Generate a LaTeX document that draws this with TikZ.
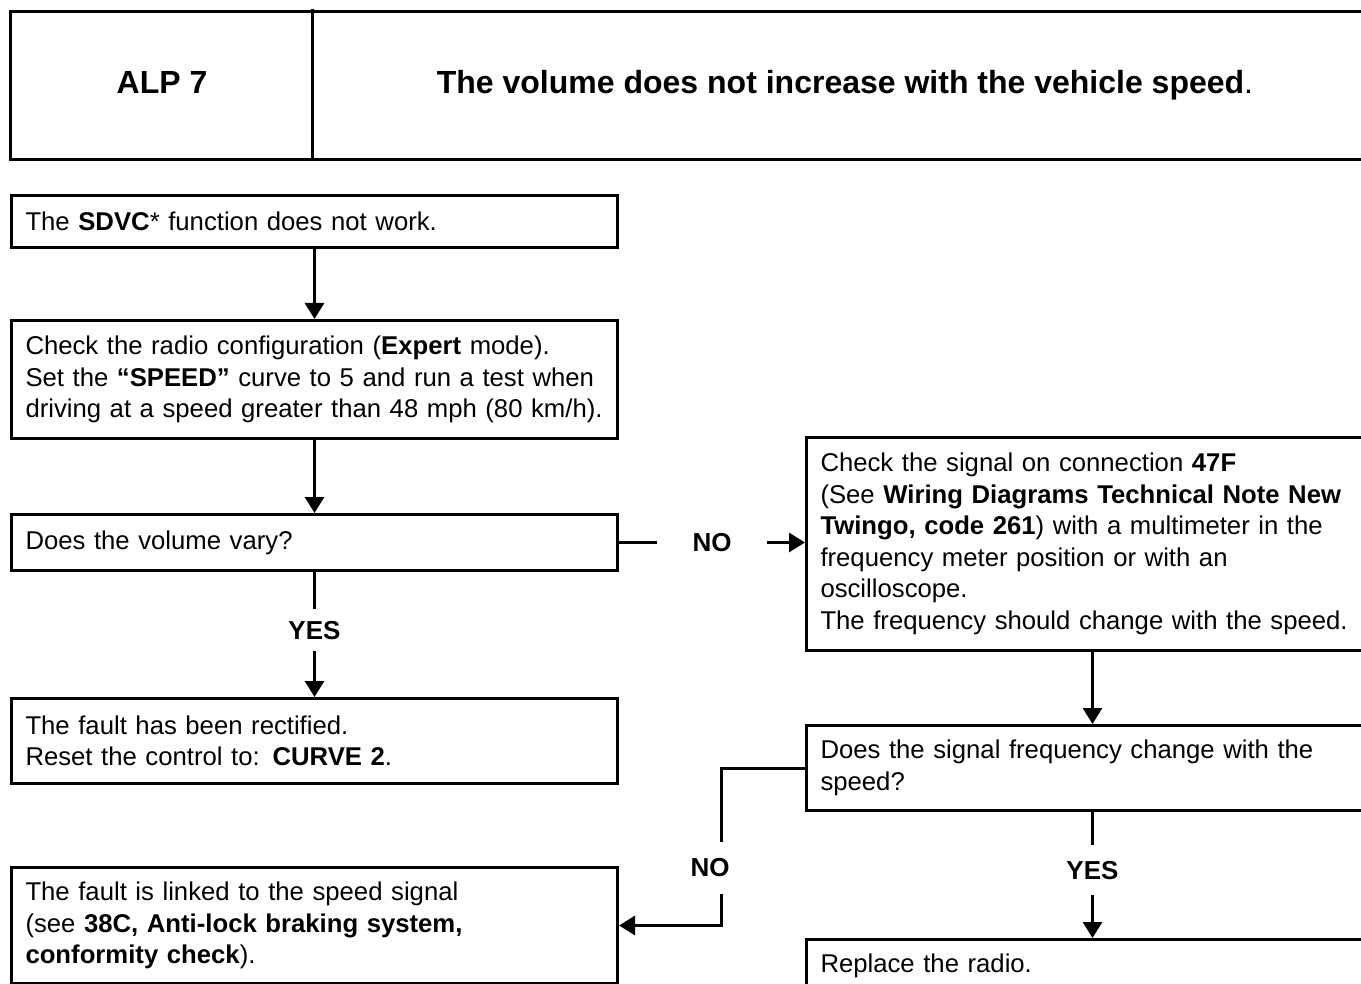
\documentclass[tikz,border=0pt]{standalone}
\usepackage{fontspec}
\setmainfont{Liberation Sans}
\usetikzlibrary{arrows.meta}
\begin{document}
\begin{tikzpicture}[x=1pt,y=-1pt,line width=3pt,
  box/.style={draw,line width=3pt,rectangle,anchor=north west,inner xsep=14pt,inner ysep=0pt,
    align=left,font=\fontsize{25.7}{31.5}\selectfont},
  lbl/.style={font=\fontsize{26}{30}\selectfont\bfseries,inner xsep=0pt},
  arr/.style={-{Triangle[width=19pt,length=16pt]}},
  hdr/.style={font=\fontsize{32}{38}\selectfont\bfseries,anchor=base,inner sep=0pt}]
\useasboundingbox (0,0) rectangle (1361,984);
\clip (0,0) rectangle (1361,984);
% header
\draw (10,12) rectangle (1420,160);
\draw (312,9) -- (312,160);
\node[hdr] (alp) at (162,94) {ALP 7};
\node[hdr] (title) at (845,94) {The volume does not increase with the vehicle speed\textmd{.}};
% boxes
\node[box,text width=578pt,minimum height=52pt] (b1) at (10,194)
  {The \textbf{SDVC}* function does not work.};
\node[box,text width=578pt,minimum height=118pt] (b2) at (10,319)
  {\mbox{Check the radio configuration (\textbf{Expert} mode).}\\
   \mbox{Set the \textbf{“SPEED”} curve to 5 and run a test when}\\
   \mbox{driving at a speed greater than 48 mph (80 km/h).}};
\node[box,text width=578pt,minimum height=56pt] (b3) at (10,513)
  {Does the volume vary?};
\node[box,text width=544pt,minimum height=213pt] (b4) at (805,436)
  {Check the signal on connection \textbf{47F}\\
   \mbox{(See \textbf{Wiring Diagrams Technical Note New}}\\
   \mbox{\textbf{Twingo, code 261}) with a multimeter in the}\\
   frequency meter position or with an\\
   oscilloscope.\\
   \mbox{The frequency should change with the speed.}};
\node[box,text width=578pt,minimum height=85pt] (b5) at (10,697)
  {The fault has been rectified.\\
   Reset the control to: \textbf{CURVE 2}.};
\node[box,text width=544pt,minimum height=85pt] (b6) at (805,724)
  {Does the signal frequency change with the\\
   speed?};
\node[box,text width=578pt,minimum height=116pt] (b7) at (10,866)
  {The fault is linked to the speed signal\\
   (see \textbf{38C, Anti-lock braking system,}\\
   \textbf{conformity check}).};
\node[box,text width=544pt,minimum height=52pt] (b8) at (805,938)
  {Replace the radio.};
% labels
\node[lbl,inner xsep=34pt,inner ysep=0pt,anchor=west] (no1) at ([xshift=38pt]b3.east) {NO};
\node[lbl,inner ysep=10.5pt,anchor=north] (yes1) at ([yshift=-37pt]b3.south) {YES};
\node[lbl,inner ysep=14.5pt,anchor=north] (yes2) at ([yshift=-33pt]b6.south) {YES};
\node[lbl,inner ysep=15.5pt] (no2) at (710,868) {NO};
% connectors
\draw[arr] (b1) -- (b2);
\draw[arr] (b2) -- (b3);
\draw (b3.east) -- (no1.west);
\draw[arr] (no1.east) -- (b4.west |- no1.east);
\draw (b3) -- (yes1);
\draw[arr] (yes1) -- (b5);
\draw[arr] (b4) -- (b6);
\draw (b6) -- (yes2);
\draw[arr] (yes2) -- (b8);
\draw (b6.west) -| ([xshift=11pt]no2.north);
\draw[arr] ([xshift=11pt]no2.south) |- (b7.east);
\end{tikzpicture}
\end{document}
